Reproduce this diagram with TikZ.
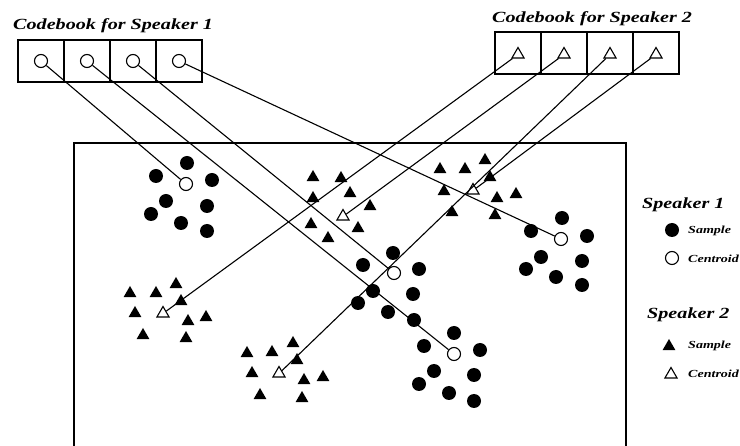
\documentclass[tikz,border=0pt]{standalone}
\usepackage{fontspec}
\setmainfont{Liberation Serif}[FakeStretch=1.3]
\usetikzlibrary{shapes.geometric}

\begin{document}
\begin{tikzpicture}[x=1pt,y=-1pt]
  \tikzset{cell/.style={draw, line width=1.2pt, minimum width=46pt, minimum height=42pt, inner sep=0pt},
           samp1/.style={circle, fill=black, inner sep=0pt, minimum size=14pt},
           cent1/.style={circle, draw, fill=white, line width=1.1pt, inner sep=0pt, minimum size=13pt},
           samp2/.style={regular polygon, regular polygon sides=3, fill=black, inner sep=0pt, minimum size=15pt, yshift=-1.5pt},
           cent2/.style={regular polygon, regular polygon sides=3, draw, fill=white, line width=1.1pt, inner sep=0pt, minimum size=14pt, yshift=-1.5pt},
           link/.style={line width=1.1pt},
           head/.style={font=\bfseries\itshape\fontsize{15.5}{17}\selectfont, inner sep=0pt, anchor=base west},
           lab/.style={font=\bfseries\itshape\fontsize{10.8}{12}\selectfont, inner sep=0pt, anchor=west}}
  \useasboundingbox (0,0) rectangle (740,446);

  \draw[line width=1.4pt] (74,446) -- (74,143) -- (626,143) -- (626,446);

  \node[head] (headA) at (13,30) {Codebook for Speaker 1};
  \node[head] (headB) at (492,23) {Codebook for Speaker 2};
  \foreach \i in {1,...,4} {
    \node[cell] (bookA\i) at ({-5+46*\i},61) {};
    \node[cent1] (codeA\i) at (bookA\i) {};
    \node[cell] (bookB\i) at ({472+46*\i},53) {};
    \node[cent2] (codeB\i) at (bookB\i) {};
  }

  \foreach \p [count=\i] in {(187,163),(156,176),(212,180),(166,201),(207,206),(151,214),(181,223),(207,231)}
    \node[samp1] (sA\i) at \p {};
  \foreach \p [count=\i] in {(393,253),(363,265),(419,269),(373,291),(413,294),(358,303),(388,312),(414,320)}
    \node[samp1] (sB\i) at \p {};
  \foreach \p [count=\i] in {(454,333),(424,346),(480,350),(434,371),(474,375),(419,384),(449,393),(474,401)}
    \node[samp1] (sC\i) at \p {};
  \foreach \p [count=\i] in {(562,218),(531,231),(587,236),(541,257),(582,261),(526,269),(556,277),(582,285)}
    \node[samp1] (sD\i) at \p {};

  \foreach \p [count=\i] in {(130,292),(156,292),(176,283),(181,300),(135,312),(188,320),(206,316),(143,334),(186,337)}
    \node[samp2] (tE\i) at \p {};
  \foreach \p [count=\i] in {(313,176),(341,177),(350,192),(313,197),(370,205),(311,223),(358,227),(328,237)}
    \node[samp2] (tF\i) at \p {};
  \foreach \p [count=\i] in {(247,352),(272,351),(293,342),(297,359),(252,372),(304,379),(323,376),(260,394),(302,397)}
    \node[samp2] (tG\i) at \p {};
  \foreach \p [count=\i] in {(440,168),(465,168),(485,159),(490,176),(444,190),(497,197),(516,193),(452,211),(495,214)}
    \node[samp2] (tH\i) at \p {};

  \node[cent1] (cenA) at (186,184) {};
  \node[cent1] (cenB) at (394,273) {};
  \node[cent1] (cenC) at (454,354) {};
  \node[cent1] (cenD) at (561,239) {};
  \node[cent2] (cenE) at (163,312) {};
  \node[cent2] (cenF) at (343,215) {};
  \node[cent2] (cenG) at (279,372) {};
  \node[cent2] (cenH) at (473,189) {};

  \draw[link] (codeA1) -- (cenA);
  \draw[link] (codeA2) -- (cenC);
  \draw[link] (codeA3) -- (cenB);
  \draw[link] (codeA4) -- (cenD);
  \draw[link] (codeB1) -- (cenE);
  \draw[link] (codeB2) -- (cenF);
  \draw[link] (codeB3) -- (cenG);
  \draw[link] (codeB4) -- (cenH);

  \node[head] (spkA) at (642,209) {Speaker 1};
  \node[samp1] (keyA1) at (672,230) {};
  \node[lab] (labA1) at (688,231) {Sample};
  \node[cent1] (keyA2) at (672,258) {};
  \node[lab] (labA2) at (688,259) {Centroid};
  \node[head] (spkB) at (647,319) {Speaker 2};
  \node[samp2] (keyB1) at (669,345) {};
  \node[lab] (labB1) at (688,346) {Sample};
  \node[cent2] (keyB2) at (671,373) {};
  \node[lab] (labB2) at (688,374) {Centroid};
\end{tikzpicture}
\end{document}
